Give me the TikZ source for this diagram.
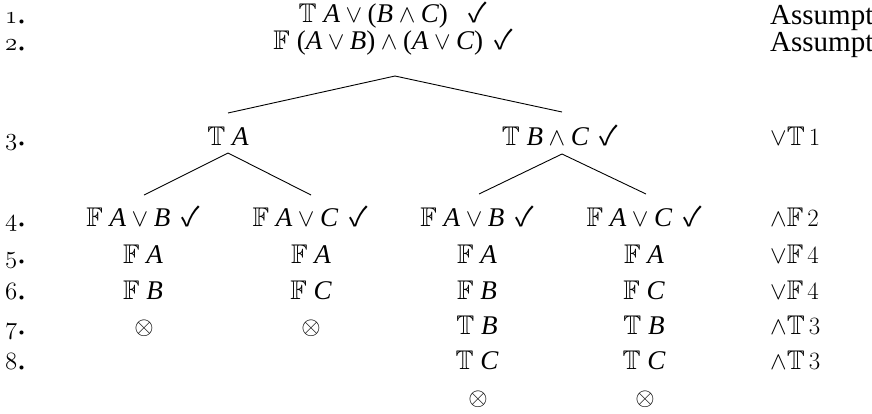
\documentclass[tikz,border=0pt]{standalone}
\usepackage{amsmath,amssymb}
\usepackage{fontspec}
\setmainfont{Liberation Serif}
\newfontfamily\djv{DejaVu Sans}
\IfFontExistsTF{Noto Sans CJK SC}{\newfontfamily\cklight{Noto Sans CJK SC}}{\newfontfamily\cklight{DejaVu Sans}}
\newcommand{\ckglyph}{{\cklight\iffontchar\font"2713 ✓\else{\djv ✓}\fi}}
\newcommand{\vA}{\textit{A}}
\newcommand{\vB}{\textit{B}}
\newcommand{\vC}{\textit{C}}
\newcommand{\TT}{\mathbb{T}\;}
\newcommand{\FF}{\mathbb{F}\;}
\newcommand{\ck}{\ \,\mbox{\fontsize{27}{30}\selectfont\ckglyph}}
\newcommand{\ckw}{\hspace{21pt}\mbox{\fontsize{27}{30}\selectfont\ckglyph}}
\newcommand{\lp}{\mbox{(}}
\newcommand{\rp}{\mbox{)}}
\newcommand{\osn}[1]{{\fontencoding{OML}\fontfamily{cmm}\fontseries{m}\fontshape{it}\selectfont #1}.}
\begin{document}
\begin{tikzpicture}[x=1pt,y=-1pt,
  txt/.style={inner sep=0pt, font=\fontsize{27}{32}\selectfont},
  lnum/.style={inner sep=0pt, anchor=base west, font=\fontsize{34}{36}\selectfont},
  rule/.style={txt, anchor=base west},
  assm/.style={inner sep=0pt, anchor=base west, font=\fontsize{29}{34}\selectfont},
  fml/.style={txt, anchor=base},
  branch/.style={line width=0.9pt}]
\useasboundingbox (0,0) rectangle (872,413);
% line numbers
\node[lnum] (n1) at (5,23) {\osn{1}};
\node[lnum] (n2) at (5,50) {\osn{2}};
\node[lnum] (n3) at (5,145) {\osn{3}};
\node[lnum] (n4) at (5,226) {\osn{4}};
\node[lnum] (n5) at (5,263) {\osn{5}};
\node[lnum] (n6) at (5,299) {\osn{6}};
\node[lnum] (n7) at (5,334) {\osn{7}};
\node[lnum] (n8) at (5,369) {\osn{8}};
% rules
\node[assm] (j1) at (770,24) {Assumption};
\node[assm] (j2) at (770,51) {Assumption};
\node[rule] (j3) at (770,145) {$\vee\mathbb{T}\,1$};
\node[rule] (j4) at (770,226) {$\wedge\mathbb{F}\,2$};
\node[rule] (j5) at (770,263) {$\vee\mathbb{F}\,4$};
\node[rule] (j6) at (770,299) {$\vee\mathbb{F}\,4$};
\node[rule] (j7) at (770,334) {$\wedge\mathbb{T}\,3$};
\node[rule] (j8) at (770,369) {$\wedge\mathbb{T}\,3$};
% root
\node[fml] (r1) at (393,22) {$\TT\vA \vee \lp\vB \wedge \vC\rp\ckw$};
\node[fml] (r2) at (393,49) {$\FF\lp\vA \vee \vB\rp \wedge \lp\vA \vee \vC\rp\ck$};
% row 3
\node[fml] (L3) at (228,145) {$\TT\vA$};
\node[fml] (R3) at (560,145) {$\TT\vB \wedge \vC\ck$};
% column 1
\node[fml] (a4) at (143,226) {$\FF\vA \vee \vB\ck$};
\node[fml] (a5) at (143,263) {$\FF\vA$};
\node[fml] (a6) at (143,299) {$\FF\vB$};
\node[fml] (a7) at (144,334) {$\otimes$};
% column 2
\node[fml] (b4) at (310,226) {$\FF\vA \vee \vC\ck$};
\node[fml] (b5) at (311,263) {$\FF\vA$};
\node[fml] (b6) at (311,299) {$\FF\vC$};
\node[fml] (b7) at (311,334) {$\otimes$};
% column 3
\node[fml] (c4) at (477,226) {$\FF\vA \vee \vB\ck$};
\node[fml] (c5) at (477,263) {$\FF\vA$};
\node[fml] (c6) at (477,299) {$\FF\vB$};
\node[fml] (c7) at (477,334) {$\TT\vB$};
\node[fml] (c8) at (477,369) {$\TT\vC$};
\node[fml] (c9) at (478,405) {$\otimes$};
% column 4
\node[fml] (d4) at (644,226) {$\FF\vA \vee \vC\ck$};
\node[fml] (d5) at (644,263) {$\FF\vA$};
\node[fml] (d6) at (644,299) {$\FF\vC$};
\node[fml] (d7) at (644,334) {$\TT\vB$};
\node[fml] (d8) at (644,369) {$\TT\vC$};
\node[fml] (d9) at (645,405) {$\otimes$};
% branches
\draw[branch] ([xshift=2pt,yshift=-27pt]r2.base) -- ([yshift=32pt]L3.base);
\draw[branch] ([xshift=2pt,yshift=-27pt]r2.base) -- ([xshift=2pt,yshift=33pt]R3.base);
\draw[branch] ([yshift=-8pt]L3.base) -- ([xshift=1pt,yshift=31pt]a4.base);
\draw[branch] ([yshift=-8pt]L3.base) -- ([xshift=1pt,yshift=31pt]b4.base);
\draw[branch] ([xshift=2pt,yshift=-9pt]R3.base) -- ([xshift=2pt,yshift=32pt]c4.base);
\draw[branch] ([xshift=2pt,yshift=-9pt]R3.base) -- ([xshift=2pt,yshift=32pt]d4.base);
\end{tikzpicture}
\end{document}
